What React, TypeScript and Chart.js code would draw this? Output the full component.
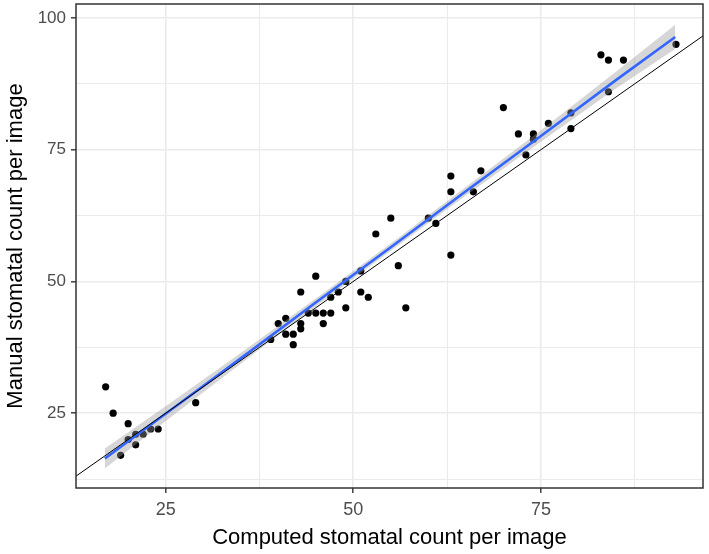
import React, { useEffect, useRef } from "react";
import { Chart, registerables } from "chart.js";

Chart.register(...registerables);

// Scatter data (computed vs manual stomatal counts)
const computed = [17, 18, 20, 20, 21, 21, 19, 22, 23, 24, 29, 45, 43, 41, 40, 39, 42, 41, 42, 43, 43, 44, 45, 46, 47, 46, 47, 48, 49, 49, 51, 52, 51, 56, 57, 53, 55, 60, 61, 63, 63, 63, 66, 67, 70, 72, 74, 74, 73, 76, 79, 79, 84, 83, 84, 86, 93];
const manual = [30, 25, 23, 20, 21, 19, 17, 21, 22, 22, 27, 51, 48, 43, 42, 39, 38, 40, 40, 41, 42, 44, 44, 44, 44, 42, 47, 48, 45, 50, 48, 47, 52, 53, 45, 59, 62, 62, 61, 70, 67, 55, 67, 71, 83, 78, 78, 77, 74, 80, 82, 79, 86, 93, 92, 92, 95];

// Fitted line and its confidence band
const fitX = [16.9, 25, 35, 45, 55, 65, 75, 85, 92.9];
const fitY = [16.4, 24.9, 35.4, 46.0, 56.5, 67.1, 77.6, 88.2, 96.4];
const bandLow = [14.5, 23.5, 34.4, 45.25, 55.8, 66.3, 76.5, 86.6, 94.1];
const bandHigh = [18.3, 26.3, 36.4, 46.75, 57.2, 67.9, 78.7, 89.8, 98.7];

// 1:1 reference line
const refLine = [0, 110];

// Axis ticks
const xTicks = [25, 37.5, 50, 62.5, 75, 87.5];
const yTicks = [12.5, 25, 37.5, 50, 62.5, 75, 87.5, 100];
const xLabels = [25, 50, 75];
const yLabels = [25, 50, 75, 100];

const X_MIN = 13.05;
const X_MAX = 96.6;
const Y_MIN = 10.8;
const Y_MAX = 102.65;

const borderPlugin = {
  id: "panelBorder",
  afterDraw(chart: any) {
    const { ctx, chartArea } = chart;
    ctx.save();
    ctx.strokeStyle = "#333333";
    ctx.lineWidth = 1.5;
    ctx.strokeRect(chartArea.left, chartArea.top, chartArea.right - chartArea.left, chartArea.bottom - chartArea.top);
    ctx.restore();
  },
};

export default function App() {
  const ref = useRef<HTMLCanvasElement | null>(null);

  useEffect(() => {
    if (!ref.current) return;
    const pts = computed.map((x, i) => ({ x, y: manual[i] }));
    const fit = fitX.map((x, i) => ({ x, y: fitY[i] }));
    const low = fitX.map((x, i) => ({ x, y: bandLow[i] }));
    const high = fitX.map((x, i) => ({ x, y: bandHigh[i] }));
    const ref11 = refLine.map((v) => ({ x: v, y: v }));

    const isMajor = (arr: number[]) => (ctx: any) => ctx.tick && arr.includes(ctx.tick.value);
    const font = "'Liberation Sans', Arial, sans-serif";

    const chart = new Chart(ref.current, {
      type: "scatter",
      data: {
        datasets: [
          {
            data: pts,
            backgroundColor: "#000000",
            borderColor: "#000000",
            pointRadius: 3.6,
            pointBorderWidth: 0,
            order: 5,
          },
          {
            data: low,
            showLine: true,
            borderWidth: 0,
            borderColor: "rgba(0,0,0,0)",
            pointRadius: 0,
            fill: false,
            order: 4,
          },
          {
            data: high,
            showLine: true,
            borderWidth: 0,
            borderColor: "rgba(0,0,0,0)",
            backgroundColor: "rgba(153,153,153,0.4)",
            pointRadius: 0,
            fill: "-1",
            order: 3,
          },
          {
            data: fit,
            showLine: true,
            borderColor: "#3366FF",
            borderWidth: 2.6,
            pointRadius: 0,
            fill: false,
            order: 2,
          },
          {
            data: ref11,
            showLine: true,
            borderColor: "#000000",
            borderWidth: 1,
            pointRadius: 0,
            fill: false,
            order: 1,
          },
        ],
      },
      options: {
        responsive: false,
        animation: false,
        layout: { padding: { left: 0, top: 3, right: 6, bottom: 0 } },
        plugins: {
          legend: { display: false },
          tooltip: { enabled: false },
        },
        scales: {
          x: {
            type: "linear",
            min: X_MIN,
            max: X_MAX,
            afterBuildTicks: (s: any) => {
              s.ticks = xTicks.map((v) => ({ value: v }));
            },
            afterFit: (s: any) => {
              s.height = 66;
              s.paddingLeft = 0;
              s.paddingRight = 0;
            },
            border: { display: false },
            grid: {
              color: "#EBEBEB",
              lineWidth: (c: any) => (isMajor(xLabels)(c) ? 1.6 : 1),
              tickColor: (c: any) => (isMajor(xLabels)(c) ? "#333333" : "rgba(0,0,0,0)"),
              tickLength: 5,
              tickWidth: 1.4,
            },
            ticks: {
              color: "#4D4D4D",
              font: { family: font, size: 18 },
              padding: 6,
              maxRotation: 0,
              autoSkip: false,
              callback: (v: any) => (xLabels.includes(Number(v)) ? String(v) : ""),
            },
            title: {
              display: true,
              text: "Computed stomatal count per image",
              color: "#000000",
              font: { family: font, size: 22 },
              padding: { top: 0, bottom: 3 },
            },
          },
          y: {
            type: "linear",
            min: Y_MIN,
            max: Y_MAX,
            afterBuildTicks: (s: any) => {
              s.ticks = yTicks.map((v) => ({ value: v }));
            },
            afterFit: (s: any) => {
              s.width = 76;
              s.paddingTop = 0;
              s.paddingBottom = 0;
            },
            border: { display: false },
            grid: {
              color: "#EBEBEB",
              lineWidth: (c: any) => (isMajor(yLabels)(c) ? 1.6 : 1),
              tickColor: (c: any) => (isMajor(yLabels)(c) ? "#333333" : "rgba(0,0,0,0)"),
              tickLength: 5,
              tickWidth: 1.4,
            },
            ticks: {
              color: "#4D4D4D",
              font: { family: font, size: 17 },
              padding: 5,
              autoSkip: false,
              callback: (v: any) => (yLabels.includes(Number(v)) ? String(v) : ""),
            },
            title: {
              display: true,
              text: "Manual stomatal count per image",
              color: "#000000",
              font: { family: font, size: 22 },
              padding: { top: 3, bottom: 0 },
            },
          },
        },
      },
      plugins: [borderPlugin],
    } as any);

    return () => chart.destroy();
  }, []);

  return (
    <div style={{ position: "fixed", left: 0, top: 0, width: 709, height: 554, background: "#ffffff" }}>
      <canvas ref={ref} width={709} height={554} style={{ display: "block" }} />
    </div>
  );
}
